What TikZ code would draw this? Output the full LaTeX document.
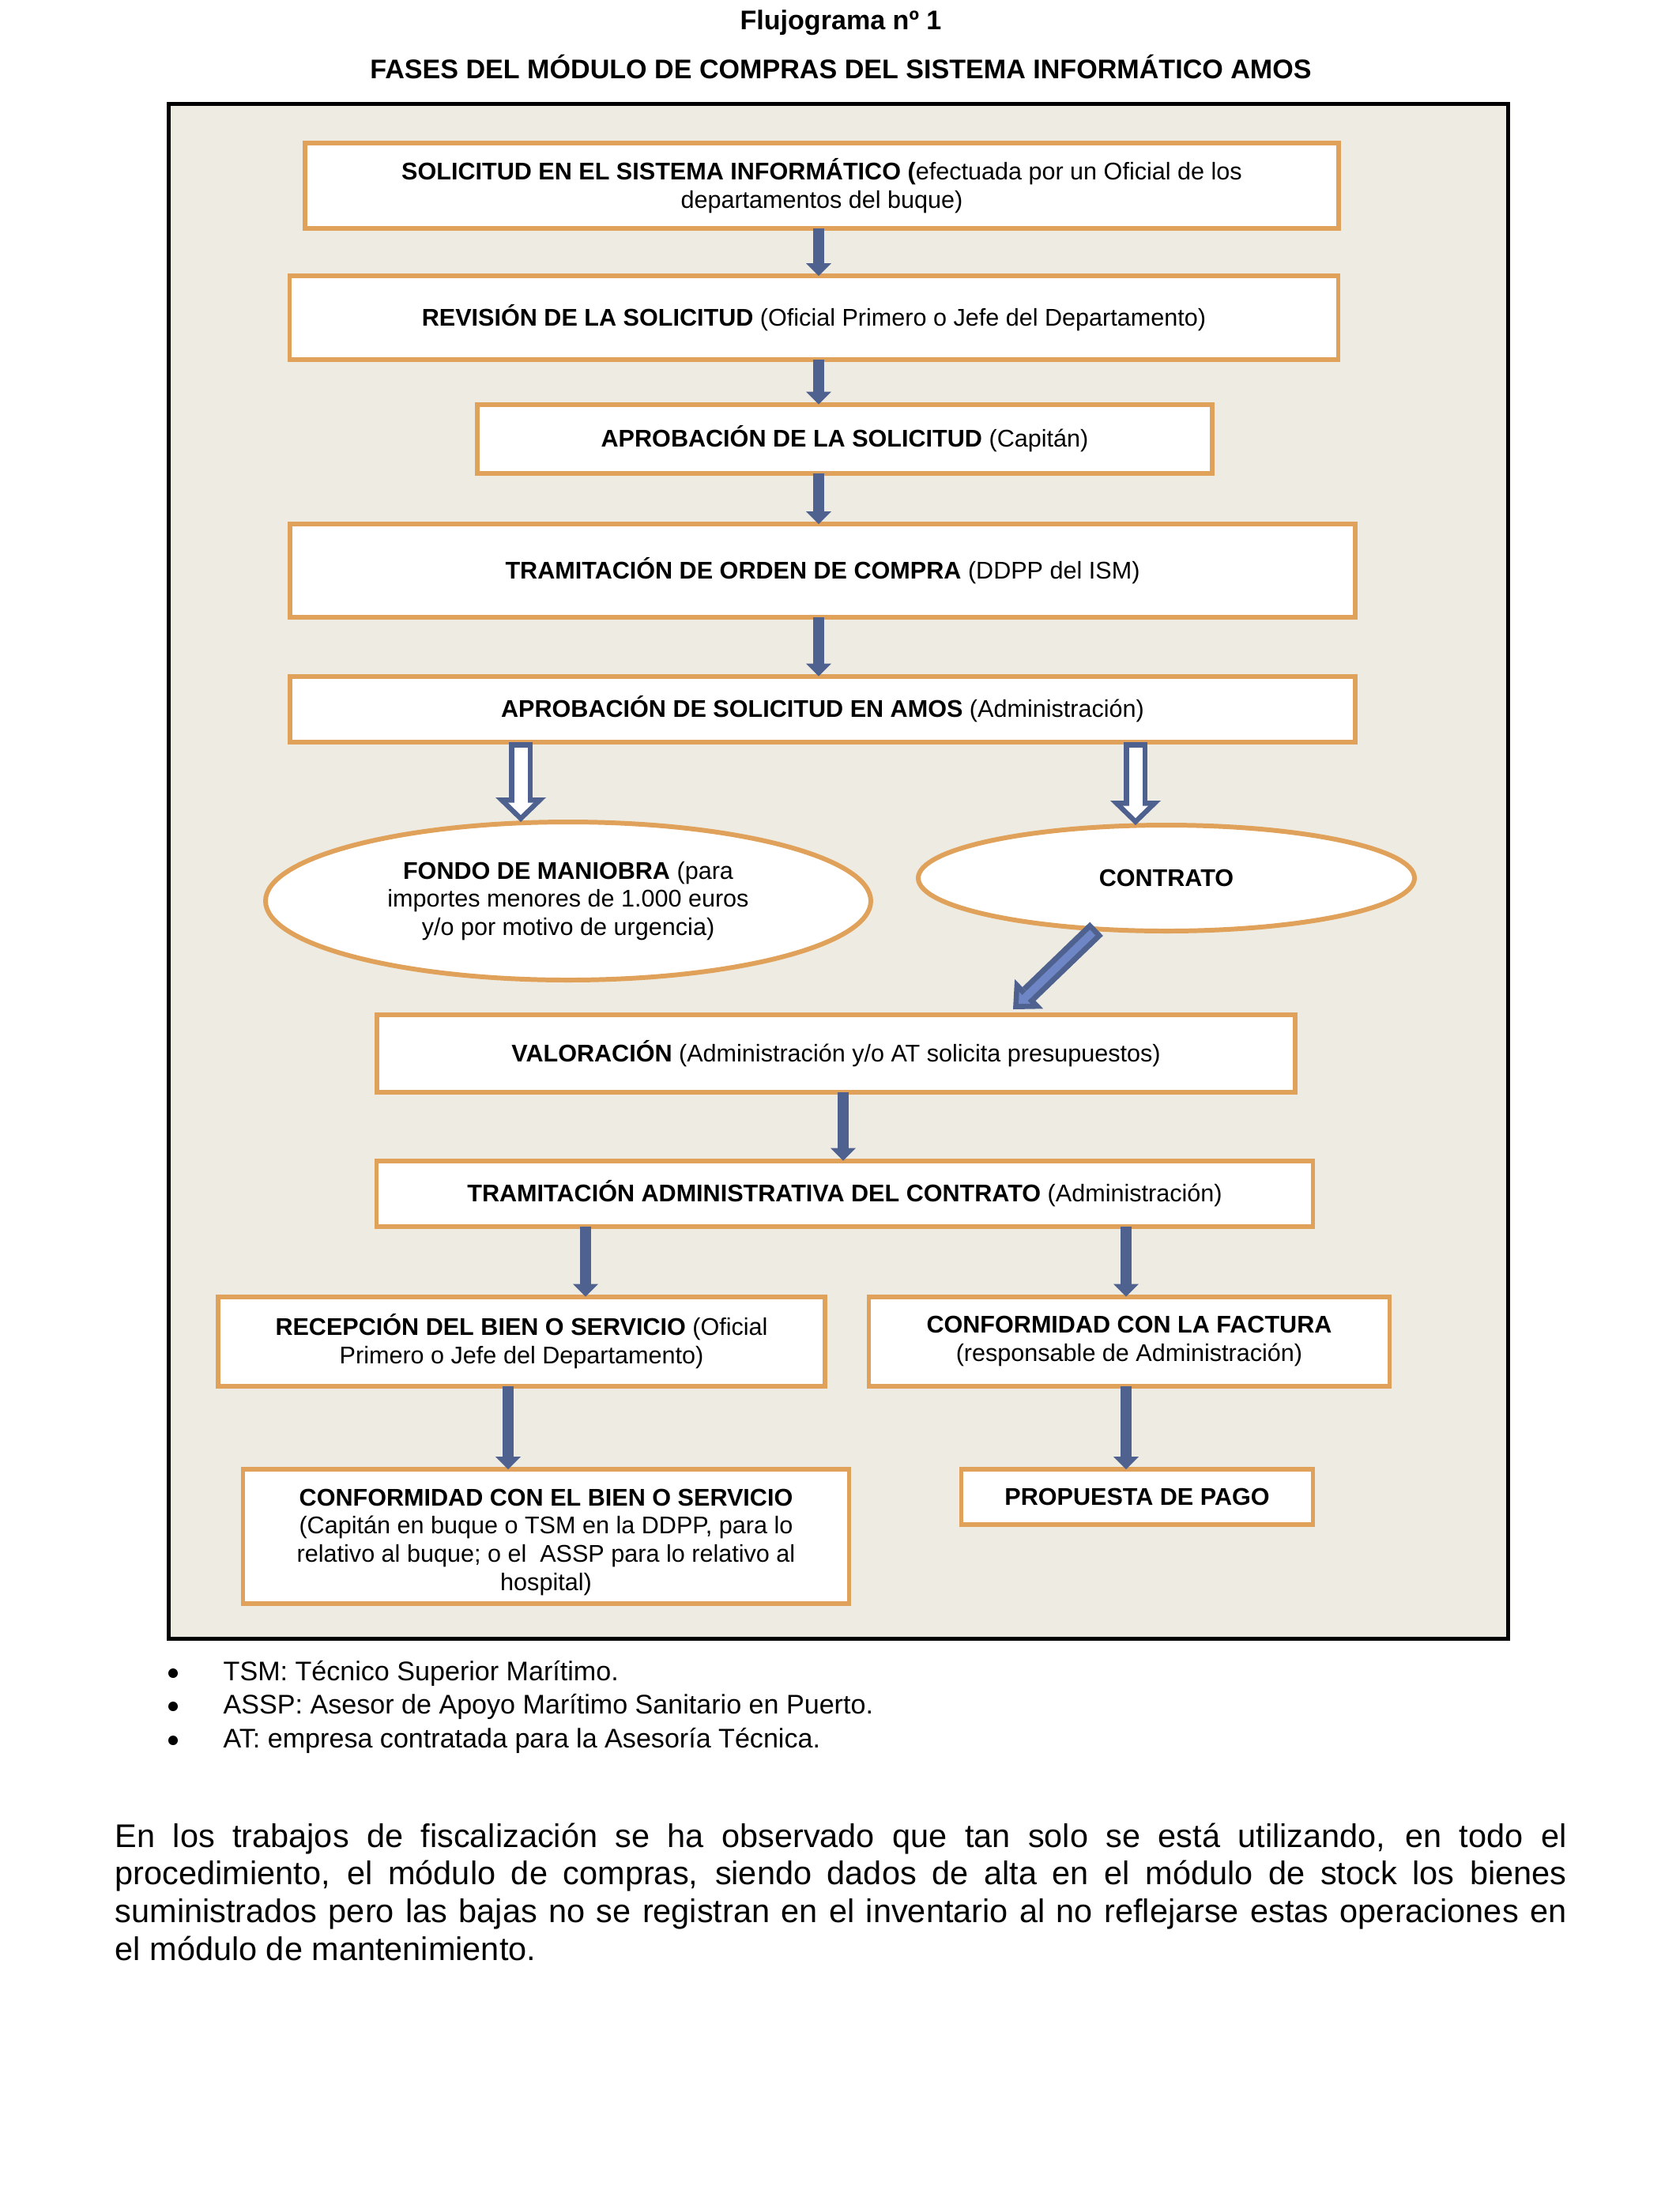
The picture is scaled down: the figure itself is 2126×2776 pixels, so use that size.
\documentclass[tikz,border=0pt]{standalone}
\usepackage{fontspec}
\setmainfont{Liberation Sans}
\usetikzlibrary{arrows.meta,shapes.geometric}

\definecolor{faseorange}{RGB}{224,162,90}
\definecolor{fondobeige}{RGB}{238,236,226}
\definecolor{flechaazul}{RGB}{79,97,143}
\definecolor{flechaclara}{RGB}{111,134,198}

\tikzset{
  fase/.style={draw=faseorange, line width=1.7pt, fill=white, outer sep=0pt, inner sep=0pt,
    align=center, font=\fontsize{8.7}{10.2}\selectfont},
  ovalo/.style={fase, ellipse},
  titular/.style={font=\bfseries\fontsize{9.7}{11.6}\selectfont, anchor=base, inner sep=0pt},
  nota/.style={font=\fontsize{9.7}{12}\selectfont, anchor=base west, inner sep=0pt},
  vineta/.style={circle, fill=black, minimum size=1.2mm, inner sep=0pt},
  flecha/.style={draw=flechaazul, line width=1.4mm,
    -{Triangle[width=3.2mm,length=1.6mm,line width=0pt]}},
  huecoext/.style={draw=flechaazul, line width=3mm,
    -{Triangle[width=6.4mm,length=3.1mm,line width=0pt]}},
  huecoint/.style={draw=white, line width=1.7mm, shorten <=0.7mm, shorten >=0.9mm,
    -{Triangle[width=3.2mm,length=1.55mm,line width=0pt]}},
  diagext/.style={draw=flechaazul, line width=2.4mm,
    -{Triangle[width=5.2mm,length=2.8mm,line width=0pt]}},
  diagint/.style={draw=flechaclara, line width=1mm, shorten <=0.67mm, shorten >=0.98mm,
    -{Triangle[width=2.1mm,length=1.1mm,line width=0pt]}}
}

\begin{document}
\begin{tikzpicture}[x=0.1mm, y=-0.1mm]
                \useasboundingbox (0,0) rectangle (2126,2776);
                \fill[white] (0,0) rectangle (2126,2776);

                \node[titular] (titulo) at (1064,37) {Flujograma nº 1};
                \node[titular] (subtitulo) at (1064,99) {FASES DEL MÓDULO DE COMPRAS DEL SISTEMA INFORMÁTICO AMOS};

                \draw[line width=0.5mm, fill=fondobeige] (213,131) rectangle (1908,2073);

                \node[fase, minimum width=130.8mm, minimum height=10.8mm] (solicitud) at (1040,235)
                  {\textbf{SOLICITUD EN EL SISTEMA INFORMÁTICO (}efectuada por un Oficial de los\\ departamentos del buque)};
                \node[fase, minimum width=132.7mm, minimum height=10.6mm] (revision) at (1030,402)
                  {\textbf{REVISIÓN DE LA SOLICITUD} (Oficial Primero o Jefe del Departamento)};
                \node[fase, minimum width=93mm, minimum height=8.7mm] (aprobacion) at (1069,555)
                  {\textbf{APROBACIÓN DE LA SOLICITUD} (Capitán)};
                \node[fase, minimum width=134.8mm, minimum height=11.8mm] (orden) at (1041,722)
                  {\textbf{TRAMITACIÓN DE ORDEN DE COMPRA} (DDPP del ISM)};
                \node[fase, minimum width=134.8mm, minimum height=8.3mm] (amos) at (1041,897)
                  {\textbf{APROBACIÓN DE SOLICITUD EN AMOS} (Administración)};
                \node[ovalo, minimum width=76.6mm, minimum height=20mm] (fondo) at (719,1140)
                  {\textbf{FONDO DE MANIOBRA} (para\\ importes menores de 1.000 euros\\ y/o por motivo de urgencia)};
                \node[ovalo, minimum width=62.8mm, minimum height=13.4mm] (contrato) at (1476,1111)
                  {\textbf{CONTRATO}};
                \node[fase, minimum width=116.2mm, minimum height=9.8mm] (valoracion) at (1058,1333)
                  {\textbf{VALORACIÓN} (Administración y/o AT solicita presupuestos)};
                \node[fase, minimum width=118.5mm, minimum height=8.3mm] (tramitacion) at (1069,1510)
                  {\textbf{TRAMITACIÓN ADMINISTRATIVA DEL CONTRATO} (Administración)};
                \node[fase, minimum width=76.8mm, minimum height=11.3mm] (recepcion) at (660,1697)
                  {\textbf{RECEPCIÓN DEL BIEN O SERVICIO} (Oficial\\ Primero o Jefe del Departamento)};
                \node[fase, minimum width=65.9mm, minimum height=11.3mm] (factura) at (1429,1697)
                  {\textbf{CONFORMIDAD CON LA FACTURA}\\ (responsable de Administración)};
                \node[fase, minimum width=76.7mm, minimum height=17mm] (conformidad) at (691,1944)
                  {\rule{0pt}{10.2pt}\textbf{CONFORMIDAD CON EL BIEN O SERVICIO}\\ (Capitán en buque o TSM en la DDPP, para lo\\ relativo al buque; o el~ ASSP para lo relativo al\\ hospital)};
                \node[fase, minimum width=44.5mm, minimum height=7mm] (pago) at (1439,1894)
                  {\textbf{PROPUESTA DE PAGO}};

                \coordinate (xa) at (1036,0);
                \coordinate (xb) at (659,0);
                \coordinate (xc) at (1437,0);
                \coordinate (xd) at (1067,0);
                \coordinate (xe) at (741,0);
                \coordinate (xf) at (1425,0);
                \coordinate (xg) at (643,0);
                \coordinate (valtip) at (1282,1277);

                \draw[flecha] (solicitud.south -| xa) -- (revision.north -| xa);
                \draw[flecha] (revision.south -| xa) -- (aprobacion.north -| xa);
                \draw[flecha] (aprobacion.south -| xa) -- (orden.north -| xa);
                \draw[flecha] (orden.south -| xa) -- (amos.north -| xa);

                \draw[huecoext] (amos.south -| xb) -- (fondo.north -| xb);
                \draw[huecoint] (amos.south -| xb) -- (fondo.north -| xb);
                \draw[huecoext] (amos.south -| xc) -- (contrato.north -| xc);
                \draw[huecoint] (amos.south -| xc) -- (contrato.north -| xc);

                \draw[diagext] (contrato.216) -- (valtip);
                \draw[diagint] (contrato.216) -- (valtip);

                \draw[flecha] (valoracion.south -| xd) -- (tramitacion.north -| xd);
                \draw[flecha] (tramitacion.south -| xe) -- (recepcion.north -| xe);
                \draw[flecha] (tramitacion.south -| xf) -- (factura.north -| xf);
                \draw[flecha] (recepcion.south -| xg) -- (conformidad.north -| xg);
                \draw[flecha] (factura.south -| xf) -- (pago.north -| xf);

                \node[vineta] (b1) at (219,2117) {};
                \node[nota] (n1) at (282,2126) {TSM: Técnico Superior Marítimo.};
                \node[vineta] (b2) at (219,2159) {};
                \node[nota] (n2) at (282,2168) {ASSP: Asesor de Apoyo Marítimo Sanitario en Puerto.};
                \node[vineta] (b3) at (219,2202) {};
                \node[nota] (n3) at (282,2211) {AT: empresa contratada para la Asesoría Técnica.};

                \node[anchor=north west, text width=183.7mm, align=justify, inner sep=0pt,
                  font=\fontsize{11.8}{13.6}\selectfont] (parrafo) at (145,2303)
                  {\strut En los trabajos de fiscalización se ha observado que tan solo se está utilizando, en todo el\linebreak
                  procedimiento, el módulo de compras, siendo dados de alta en el módulo de stock los bienes\linebreak
                  suministrados pero las bajas no se registran en el inventario al no reflejarse estas operaciones en\linebreak
                  el módulo de mantenimiento.};
\end{tikzpicture}
\end{document}
